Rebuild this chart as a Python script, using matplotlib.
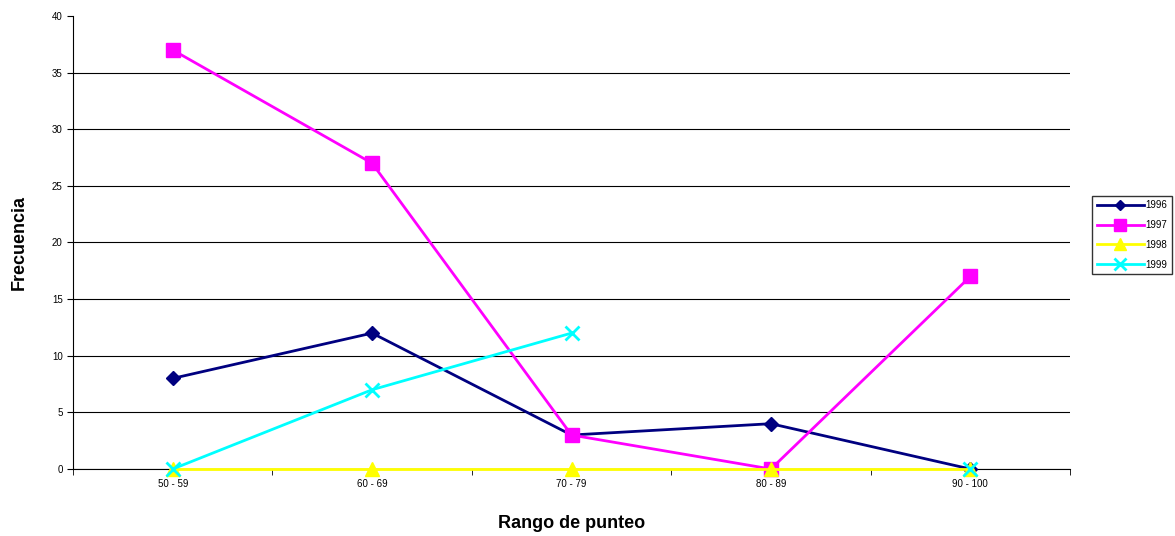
import numpy as np
import matplotlib.pyplot as plt
from matplotlib.ticker import FixedLocator

# datos
rangos = ['50 - 59', '60 - 69', '70 - 79', '80 - 89', '90 - 100']
f1996 = [8, 12, 3, 4, 0]
f1997 = [37, 27, 3, 0, 17]
f1998 = [0, 0, 0, 0, 0]
f1999 = [0, 7, 12, np.nan, 0]

plt.rcParams['font.family'] = ['Liberation Sans', 'DejaVu Sans']

fig = plt.figure(figsize=(11.75, 5.36), dpi=100)
ax = fig.add_axes([73/1175, 1 - 469/536, 997/1175, 453/536])

x = np.arange(len(rangos))
ax.plot(x, f1996, color='#000080', lw=2, marker='D', ms=7, label='1996', zorder=3, clip_on=False)
ax.plot(x, f1997, color='#FF00FF', lw=2, marker='s', ms=10, label='1997', zorder=3, clip_on=False)
ax.plot(x, f1998, color='#FFFF00', lw=2, marker='^', ms=10, label='1998', zorder=3, clip_on=False)
ax.plot(x, f1999, color='#00FFFF', lw=2, marker='x', ms=10, mew=2, label='1999', zorder=4, clip_on=False)

ax.set_xlim(-0.5, len(rangos) - 0.5)
ax.set_ylim(0, 40)
ax.set_yticks(range(0, 41, 5))
ax.set_xticks(x)
ax.set_xticklabels(rangos, fontsize=7)
ax.tick_params(axis='x', which='major', length=0, pad=7)
ax.xaxis.set_minor_locator(FixedLocator(np.arange(-0.5, len(rangos), 1)))
ax.tick_params(axis='x', which='minor', length=4, direction='out')
ax.tick_params(axis='y', labelsize=7, length=4)
ax.yaxis.grid(True, color='black', lw=0.8)
ax.yaxis.get_gridlines()[-1].set_visible(False)
ax.set_axisbelow(True)

for s in ['top', 'right']:
    ax.spines[s].set_visible(False)

ax.set_xlabel('Rango de punteo', fontsize=13, fontweight='bold', labelpad=19)
ax.set_ylabel('Frecuencia', fontsize=13, fontweight='bold', labelpad=17)

ax.legend(loc='center left', bbox_to_anchor=(1092/1175, 1 - 235/536), bbox_transform=fig.transFigure,
          fontsize=7, frameon=True, fancybox=False, edgecolor='black', borderaxespad=0,
          handlelength=4.8, handletextpad=0.2, borderpad=0.5, labelspacing=1.0, markerscale=0.8)

fig.savefig('out.png', dpi=100)
